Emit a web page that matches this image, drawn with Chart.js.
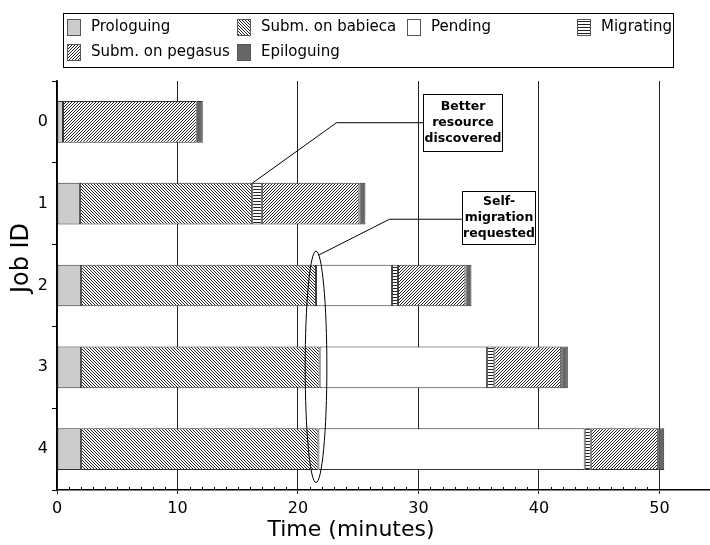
<!DOCTYPE html>
<html>
<head>
<meta charset="utf-8">
<script src="https://cdn.jsdelivr.net/npm/chart.js@4.4.1/dist/chart.umd.min.js"></script>
<style>
  html, body { margin: 0; padding: 0; background: #fff; }
  #wrap { width: 710px; height: 545px; }
</style>
</head>
<body>
<div id="wrap"><canvas id="gantt"></canvas></div>
<script>
// Datos (minutos, [inicio, fin] por trabajo)
const jobs = ['0', '1', '2', '3', '4'];
const prologuing = [[0, 0.5], [0, 1.9], [0, 2.0], [0, 2.0], [0, 2.0]];
const submBabieca = [null, [1.9, 16.2], [2.0, 21.5], [2.0, 21.8], [2.0, 21.7]];
const pending = [null, null, [21.5, 27.8], [21.8, 35.7], [21.7, 43.8]];
const migrating = [null, [16.2, 17.0], [27.8, 28.3], [35.7, 36.3], [43.8, 44.3]];
const submPegasus = [[0.5, 11.6], [17.0, 25.1], [28.3, 33.9], [36.3, 41.85], [44.3, 49.9]];
const epiloguing = [[11.6, 12.1], [25.1, 25.6], [33.9, 34.4], [41.85, 42.4], [49.9, 50.4]];
const xTicks = [0, 10, 20, 30, 40, 50];

Chart.defaults.font.family = "'DejaVu Sans', sans-serif";
Chart.defaults.color = '#000';

// tramas
function trama(tipo) {
  const c = document.createElement('canvas');
  if (tipo === 'horiz') { c.width = 1; c.height = 3; } else { c.width = 3; c.height = 3; }
  const g = c.getContext('2d');
  g.fillStyle = '#fff';
  g.fillRect(0, 0, c.width, c.height);
  g.fillStyle = '#222';
  if (tipo === 'horiz') {
    g.fillRect(0, 0, 1, 1);
  } else {
    for (let i = 0; i < 3; i++) {
      const x = tipo === 'back' ? i : 2 - i;
      g.fillRect(x, i, 1, 1);
    }
  }
  return g.createPattern(c, 'repeat');
}

function serie(label, data, fondo) {
  return {
    label: label,
    data: data,
    backgroundColor: fondo,
    borderColor: '#333',
    borderWidth: 1,
    borderSkipped: false,
    grouped: false,
    barPercentage: 0.51,
    categoryPercentage: 1
  };
}

// leyenda dibujada en recuadro
const leyenda = {
  id: 'leyenda',
  afterDraw(chart) {
    const ctx = chart.ctx;
    ctx.save();
    ctx.strokeStyle = '#000';
    ctx.lineWidth = 1;
    ctx.strokeRect(63.5, 13.5, 610, 54);
    const pos = [[67, 27], [237, 27], [407, 27], [577, 27], [67, 52], [237, 52]];
    ctx.font = "15px 'DejaVu Sans'";
    ctx.textBaseline = 'middle';
    chart.data.datasets.forEach((ds, i) => {
      const [x, y] = pos[i];
      ctx.fillStyle = ds.backgroundColor;
      ctx.fillRect(x, y - 8, 13, 16);
      ctx.strokeStyle = '#555';
      ctx.strokeRect(x + 0.5, y - 7.5, 13, 16);
      ctx.fillStyle = '#000';
      ctx.fillText(ds.label, x + 24, y);
    });
    ctx.restore();
  }
};

// titulos, marcas menores y anotaciones
const extras = {
  id: 'extras',
  afterDraw(chart) {
    const ctx = chart.ctx;
    const xs = chart.scales.x, ys = chart.scales.y;
    const X = v => xs.getPixelForValue(v);
    const Y = v => ys.getPixelForValue(v);
    ctx.save();
    ctx.strokeStyle = '#000';
    ctx.lineWidth = 1;
    // marcas menores
    ctx.beginPath();
    for (let m = 1; m < 50; m++) {
      if (m % 10 === 0) continue;
      const px = Math.round(X(m)) + 0.5;
      ctx.moveTo(px, xs.top);
      ctx.lineTo(px, xs.top - 3);
    }
    ctx.stroke();

    // titulos de ejes
    ctx.fillStyle = '#000';
    ctx.font = "22px 'DejaVu Sans'";
    ctx.textAlign = 'center';
    ctx.textBaseline = 'middle';
    ctx.fillText('Time (minutes)', 351, 530);
    ctx.save();
    ctx.translate(22, 258);
    ctx.rotate(-Math.PI / 2);
    ctx.font = "24px 'DejaVu Sans'";
    ctx.fillText('Job ID', 0, 0);
    ctx.restore();

    // elipse de auto-migracion
    ctx.beginPath();
    const cy = (Y(1.58) + Y(4.41)) / 2;
    ctx.ellipse(X(21.5), cy, X(22.4) - X(21.5), (Y(4.41) - Y(1.58)) / 2, 0, 0, Math.PI * 2);
    ctx.stroke();

    // lineas guia
    ctx.beginPath();
    ctx.moveTo(X(16.2), Y(0.75));
    ctx.lineTo(X(23.2), Y(0.01));
    ctx.lineTo(X(30.5), Y(0.01));
    ctx.moveTo(X(21.7), Y(1.63));
    ctx.lineTo(X(27.6), Y(1.19));
    ctx.lineTo(X(33.6), Y(1.19));
    ctx.stroke();

    // recuadros
    function caja(x0, x1, y0, y1, lineas) {
      const l = Math.round(X(x0)) + 0.5, r = Math.round(X(x1)) + 0.5;
      const t = Math.round(Y(y0)) + 0.5, b = Math.round(Y(y1)) + 0.5;
      ctx.fillStyle = '#fff';
      ctx.fillRect(l, t, r - l, b - t);
      ctx.strokeRect(l, t, r - l, b - t);
      ctx.fillStyle = '#000';
      ctx.font = "bold 12.5px 'DejaVu Sans'";
      const cx = (l + r) / 2, mid = (t + b) / 2;
      lineas.forEach((s, i) => ctx.fillText(s, cx, mid + (i - (lineas.length - 1) / 2) * 16));
    }
    caja(30.4, 36.9, -0.34, 0.35, ['Better', 'resource', 'discovered']);
    caja(33.6, 39.7, 0.84, 1.49, ['Self-', 'migration', 'requested']);
    ctx.restore();
  }
};

new Chart(document.getElementById('gantt'), {
  type: 'bar',
  data: {
    labels: jobs,
    datasets: [
      serie('Prologuing', prologuing, '#cccccc'),
      serie('Subm. on babieca', submBabieca, trama('back')),
      serie('Pending', pending, '#ffffff'),
      serie('Migrating', migrating, trama('horiz')),
      serie('Subm. on pegasus', submPegasus, trama('fwd')),
      serie('Epiloguing', epiloguing, '#666666')
    ]
  },
  options: {
    indexAxis: 'y',
    responsive: true,
    maintainAspectRatio: false,
    animation: false,
    layout: { padding: { top: 81, left: 0, right: 0, bottom: 0 } },
    plugins: {
      legend: { display: false },
      tooltip: { enabled: false }
    },
    scales: {
      x: {
        type: 'linear',
        min: 0,
        max: 54.2,
        z: 1,
        afterFit(s) { s.height = 55; },
        afterBuildTicks(s) { s.ticks = xTicks.map(v => ({ value: v })); },
        ticks: { font: { size: 16 }, padding: 5, includeBounds: false, maxRotation: 0 },
        grid: { color: '#222', lineWidth: 1, tickLength: 4 },
        border: { color: '#000', width: 1.5 }
      },
      y: {
        afterFit(s) { s.width = 57; },
        ticks: { font: { size: 16 }, padding: 4 },
        grid: { drawOnChartArea: false, offset: true, tickLength: 5, color: '#000' },
        border: { color: '#000', width: 1.5 }
      }
    }
  },
  plugins: [leyenda, extras]
});
</script>
</body>
</html>
